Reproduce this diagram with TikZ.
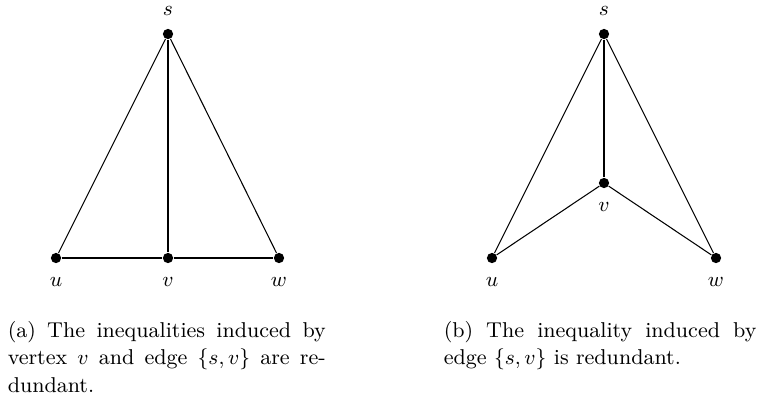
\documentclass[tikz,border=0pt]{standalone}
\begin{document}
\begin{tikzpicture}[x=0.4286pt,y=-0.4286pt,
  vtx/.style={circle,fill=black,inner sep=0pt,minimum size=4.4pt},
  lbl/.style={inner sep=0pt,font=\fontsize{9.2}{11.8}\selectfont},
  edge/.style={line width=0.45pt},
  capt/.style={inner sep=0pt,text width=#1,align=justify,font=\fontsize{9.2}{11.8}\selectfont}]
\useasboundingbox (0,0) rectangle (763,398);
% (a)
\node[vtx] (as) at (168,34) {};
\node[vtx] (au) at (56,258) {};
\node[vtx] (av) at (168,258) {};
\node[vtx] (aw) at (279,258) {};
\node[lbl] (asl) at (168,11) {$s$};
\node[lbl] (aul) at (56,282) {$u$};
\node[lbl] (avl) at (168,282) {$v$};
\node[lbl] (awl) at (279,282) {$w$};
\draw[edge] (as) -- (au);
\draw[edge] (as) -- (av);
\draw[edge] (as) -- (aw);
\draw[edge] (au) -- (av) -- (aw);
% (b)
\node[vtx] (bs) at (604,34) {};
\node[vtx] (bv) at (604,183) {};
\node[vtx] (bu) at (492,258) {};
\node[vtx] (bw) at (716,258) {};
\node[lbl] (bsl) at (604,11) {$s$};
\node[lbl] (bvl) at (604,207) {$v$};
\node[lbl] (bul) at (492,282) {$u$};
\node[lbl] (bwl) at (716,282) {$w$};
\draw[edge] (bs) -- (bu);
\draw[edge] (bs) -- (bv);
\draw[edge] (bs) -- (bw);
\draw[edge] (bu) -- (bv) -- (bw);
% captions
\node[capt=136.3pt,anchor=base west] (capa) at (7.3,337)
  {(a) The inequalities induced by\linebreak vertex $v$ and edge $\{s,v\}$ are re-\linebreak dundant.};
\node[capt=134pt,anchor=base west] (capb) at (443.3,337)
  {(b) The inequality induced by\linebreak edge $\{s,v\}$ is redundant.};
\end{tikzpicture}
\end{document}
